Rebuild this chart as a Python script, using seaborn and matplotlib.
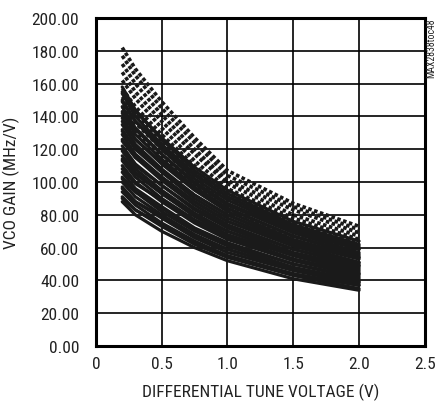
import pandas as pd
import seaborn as sns
import matplotlib.pyplot as plt

# tegangan tune diferensial (V)
tune_v = [0.2, 0.3, 0.5, 0.75, 1.0, 1.5, 2.0]

# kurva garis penuh (MHz/V)
solid_curves = [
    [88, 80, 70, 60, 52, 41, 34],
    [91, 83, 73, 62, 54, 43, 35],
    [94, 86, 75, 64, 55, 44, 37],
    [97, 88, 78, 66, 57, 46, 38],
    [100, 91, 80, 68, 59, 47, 39],
    [103, 94, 82, 70, 61, 48, 40],
    [106, 96, 85, 72, 63, 50, 41],
    [110, 100, 88, 75, 65, 52, 43],
    [113, 103, 90, 77, 67, 53, 44],
    [116, 106, 93, 79, 68, 55, 45],
    [119, 108, 95, 81, 70, 56, 46],
    [122, 111, 98, 83, 72, 57, 48],
    [126, 115, 101, 86, 74, 59, 49],
    [129, 117, 103, 88, 76, 61, 50],
    [132, 120, 106, 90, 78, 62, 51],
    [135, 123, 108, 92, 80, 63, 53],
    [139, 126, 111, 95, 82, 65, 54],
    [142, 129, 114, 97, 84, 67, 55],
    [146, 133, 117, 99, 86, 69, 57],
    [150, 137, 120, 102, 89, 71, 59],
    [154, 140, 123, 105, 91, 72, 60],
    [158, 144, 126, 107, 93, 74, 62],
    [90, 83, 74, 63, 55, 44, 37],
    [96, 88, 79, 67, 59, 47, 39],
    [102, 94, 84, 71, 62, 50, 42],
    [108, 99, 89, 76, 66, 53, 44],
    [114, 105, 93, 80, 70, 56, 47],
    [120, 110, 98, 84, 73, 59, 49],
    [125, 115, 103, 88, 76, 61, 51],
    [131, 121, 107, 92, 80, 64, 54],
    [137, 126, 112, 96, 84, 67, 56],
    [143, 132, 117, 100, 87, 70, 59],
    [149, 137, 122, 104, 91, 73, 61],
    [155, 143, 127, 109, 95, 76, 64],
]

# kurva titik-titik (MHz/V)
dotted_curves = [
    [140, 130, 115, 98, 83, 67, 56],
    [146, 136, 120, 102, 86, 70, 58],
    [152, 141, 125, 106, 90, 73, 61],
    [157, 146, 129, 110, 93, 75, 63],
    [162, 151, 133, 113, 96, 78, 65],
    [167, 155, 137, 117, 99, 80, 67],
    [172, 160, 141, 120, 101, 83, 69],
    [177, 165, 145, 124, 104, 85, 71],
    [182, 169, 149, 127, 107, 87, 73],
]

x_ticks = [0, 0.5, 1.0, 1.5, 2.0, 2.5]
x_labels = ['0', '0.5', '1.0', '1.5', '2.0', '2.5']
y_ticks = list(range(0, 201, 20))

rows = []
for i, c in enumerate(solid_curves):
    for v, g in zip(tune_v, c):
        rows.append({'v': v, 'gain': g, 'curve': 's%d' % i})
solid_df = pd.DataFrame(rows)
rows = []
for i, c in enumerate(dotted_curves):
    for v, g in zip(tune_v, c):
        rows.append({'v': v, 'gain': g, 'curve': 'd%d' % i})
dotted_df = pd.DataFrame(rows)

sns.set_style('white')
plt.rcParams['font.family'] = ['Roboto Condensed', 'DejaVu Sans']

fig = plt.figure(figsize=(4.38, 4.06), dpi=100)
ax = fig.add_axes([0.219, 0.1453, 0.751, 0.8077])

sns.lineplot(data=solid_df, x='v', y='gain', units='curve', estimator=None,
             color='#1a1a1a', linewidth=2.3, ax=ax, legend=False)
sns.lineplot(data=dotted_df, x='v', y='gain', units='curve', estimator=None,
             color='#1a1a1a', linewidth=2.6, ax=ax, legend=False,
             linestyle=(0, (1, 0.7)), dash_capstyle='butt')

ax.set_xlim(0, 2.5)
ax.set_ylim(0, 200)
ax.set_xticks(x_ticks)
ax.set_xticklabels(x_labels)
ax.set_yticks(y_ticks)
ax.set_yticklabels(['%.2f' % t for t in y_ticks])
ax.grid(True, color='black', linewidth=1.2)
ax.set_axisbelow(True)
for s in ax.spines.values():
    s.set_color('black')
    s.set_linewidth(2.2)
ax.tick_params(axis='both', length=0, labelsize=12.5, colors='#222222')
ax.tick_params(axis='y', pad=12)
ax.tick_params(axis='x', pad=7)
ax.set_xlabel('DIFFERENTIAL TUNE VOLTAGE (V)', fontsize=12.5, color='#222222', labelpad=9)
ax.set_ylabel('VCO GAIN (MHz/V)', fontsize=12.5, color='#222222', labelpad=8)

fig.text(0.984, 0.88, 'MAX2838toc48', rotation=90, fontsize=7,
         ha='center', va='center', color='#222222')

fig.savefig('out.png', dpi=100)
